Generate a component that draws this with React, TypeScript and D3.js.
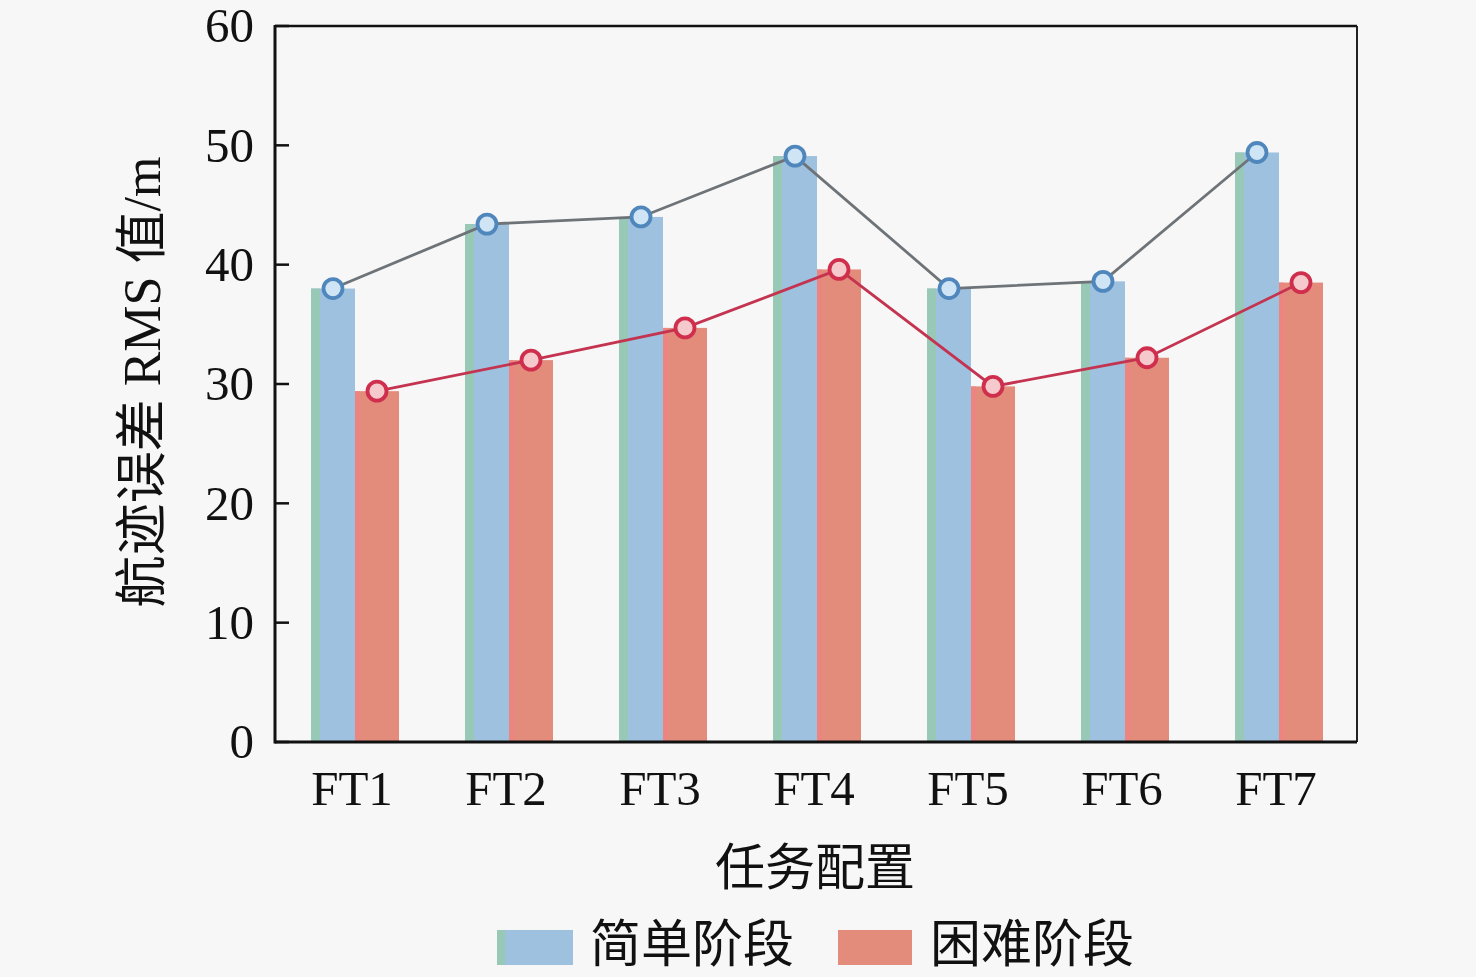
import React from 'react';
import * as d3 from 'd3';

const categories = ['FT1', 'FT2', 'FT3', 'FT4', 'FT5', 'FT6', 'FT7'];
const easyValues = [38.0, 43.4, 44.0, 49.1, 38.0, 38.6, 49.4];
const hardValues = [29.4, 32.0, 34.7, 39.6, 29.8, 32.2, 38.5];
const yTicks = [0, 10, 20, 30, 40, 50, 60];
const seriesNames = ['简单阶段', '困难阶段'];

const W = 1476;
const H = 977;
const left = 275;
const right = 1357;
const top = 26;
const bottom = 742;

const serif = '"Liberation Serif", "Times New Roman", "Noto Sans CJK SC", serif';

export default function App() {
  const x = d3.scaleBand<string>().domain(categories).range([278, 1356]).padding(0);
  const y = d3.scaleLinear().domain([0, 60]).range([bottom, top]);
  const barW = 44;
  const cx = (c: string) => (x(c) as number) + x.bandwidth() / 2;

  const easyPts = categories.map((c, i) => [cx(c) - barW / 2, y(easyValues[i])] as [number, number]);
  const hardPts = categories.map((c, i) => [cx(c) + barW / 2, y(hardValues[i])] as [number, number]);
  const line = d3.line<[number, number]>();

  return (
    <svg width={W} height={H} style={{ position: 'absolute', left: 0, top: 0 }} fontFamily={serif}>
      <rect x={0} y={0} width={W} height={H} fill="#f7f7f7" />
      {/* bars */}
      {categories.map((c, i) => {
        const c0 = cx(c);
        const ey = y(easyValues[i]);
        const hy = y(hardValues[i]);
        return (
          <g key={c}>
            <rect x={c0 - barW} y={ey} width={barW} height={bottom - ey} fill="#9dc1de" />
            <rect x={c0 - barW} y={ey} width={9} height={bottom - ey} fill="#98c9b6" />
            <rect x={c0} y={hy} width={barW} height={bottom - hy} fill="#e38c7c" />
            <rect x={c0} y={hy} width={5} height={bottom - hy} fill="#f08080" opacity={0.7} />
          </g>
        );
      })}
      {/* lines */}
      <path d={line(easyPts) || ''} fill="none" stroke="#6e7378" strokeWidth={2.8} />
      <path d={line(hardPts) || ''} fill="none" stroke="#c43350" strokeWidth={2.8} />
      {easyPts.map((p, i) => (
        <circle key={'e' + i} cx={p[0]} cy={p[1]} r={9.5} fill="#cfe4f4" stroke="#4f86bb" strokeWidth={3.8} />
      ))}
      {hardPts.map((p, i) => (
        <circle key={'h' + i} cx={p[0]} cy={p[1]} r={9.5} fill="#f6c9cc" stroke="#cf2f4c" strokeWidth={3.8} />
      ))}
      {/* frame */}
      <line x1={left} x2={right} y1={top} y2={top} stroke="#111" strokeWidth={2.5} />
      <line x1={right} x2={right} y1={top} y2={bottom} stroke="#222" strokeWidth={2} />
      <line x1={left} x2={left} y1={top - 1} y2={bottom + 1.5} stroke="#111" strokeWidth={3} />
      <line x1={left} x2={right} y1={bottom} y2={bottom} stroke="#111" strokeWidth={3} />
      {/* y ticks */}
      {yTicks.map(t => (
        <g key={t}>
          <line x1={left} x2={left + 14} y1={y(t)} y2={y(t)} stroke="#111" strokeWidth={2.5} />
          <text x={254} y={y(t)} dy="0.33em" textAnchor="end" fontSize={49} fill="#111">{t}</text>
        </g>
      ))}
      {/* x labels */}
      {categories.map(c => (
        <text key={c} x={cx(c) - 3} y={805} textAnchor="middle" fontSize={49} fill="#111">{c}</text>
      ))}
      {/* axis titles */}
      <text x={815} y={885} textAnchor="middle" fontSize={50} fill="#111">任务配置</text>
      <text transform={`translate(160, 382) rotate(-90)`} textAnchor="middle" fontSize={52} fill="#111">航迹误差 RMS 值/m</text>
      {/* legend */}
      <rect x={497} y={930} width={76} height={35} fill="#9dc1de" />
      <rect x={497} y={930} width={8} height={35} fill="#98c9b6" />
      <text x={590} y={962} fontSize={51} fill="#111">{seriesNames[0]}</text>
      <rect x={838} y={930} width={74} height={35} fill="#e38c7c" />
      <text x={930} y={962} fontSize={51} fill="#111">{seriesNames[1]}</text>
    </svg>
  );
}
